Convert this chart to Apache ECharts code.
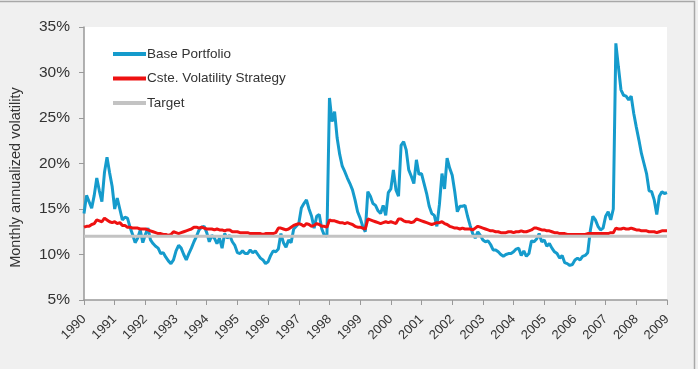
<!DOCTYPE html>
<html>
<head>
<meta charset="utf-8">
<script src="https://cdn.jsdelivr.net/npm/echarts@6/dist/echarts.min.js"></script>
<style>
    html, body { margin: 0; padding: 0; background: #f0f0f0; }
    #chart { width: 698px; height: 369px; }
</style>
</head>
<body>
<div id="chart"></div>
<script>
// years shown on the axis (monthly data, Jan 1990 - Jan 2009)
var years = [1990, 1991, 1992, 1993, 1994, 1995, 1996, 1997, 1998, 1999,
             2000, 2001, 2002, 2003, 2004, 2005, 2006, 2007, 2008, 2009];

// Base Portfolio, monthly annualized vol (%)
var basePortfolio = [
    14.5, 16.5, 15.8, 15.1, 16.5, 18.4, 17.0, 15.8, 19.0, 20.7, 19.0, 17.5,   // 1990
    15.0, 16.2, 15.0, 13.8, 14.1, 14.0, 13.0, 12.2, 11.3, 11.8, 12.7, 11.3,   // 1991
    12.2, 12.9, 11.6, 11.2, 10.9, 10.7, 10.1, 10.2, 9.7, 9.3, 9.0, 9.4,       // 1992
    10.4, 11.0, 10.7, 10.0, 9.4, 10.1, 10.7, 11.4, 12.0, 12.7, 13.0, 13.1,    // 1993
    12.4, 11.4, 12.1, 11.8, 11.2, 11.8, 10.7, 12.3, 11.8, 12.1, 11.4, 11.0,   // 1994
    10.2, 10.1, 10.4, 10.1, 10.1, 10.5, 10.2, 10.4, 10.0, 9.6, 9.4, 9.0,      // 1995
    9.2, 9.9, 10.4, 10.3, 10.6, 12.3, 11.3, 10.8, 11.6, 11.3, 12.8, 13.1,     // 1996
    13.4, 15.1, 15.6, 16.0, 15.0, 14.2, 12.9, 14.2, 14.4, 12.8, 12.1, 12.0,   // 1997
    27.2, 24.6, 25.7, 22.8, 21.0, 19.7, 19.1, 18.4, 17.8, 17.1, 16.0, 14.7,   // 1998
    14.0, 13.1, 12.5, 16.9, 16.4, 15.6, 15.4, 14.8, 14.5, 15.4, 14.3, 16.8,   // 1999
    17.2, 19.3, 17.1, 16.4, 22.0, 22.4, 21.5, 19.3, 18.6, 17.8, 20.4, 18.8,   // 2000
    18.9, 17.8, 16.7, 15.3, 14.5, 14.3, 13.1, 15.5, 18.9, 17.2, 20.6, 19.5,   // 2001
    18.7, 16.9, 14.7, 15.3, 15.3, 15.4, 14.2, 13.2, 12.3, 11.8, 12.5, 12.1,   // 2002
    11.6, 11.4, 11.5, 11.1, 10.5, 10.5, 10.3, 10.0, 9.8, 10.0, 10.1, 10.1,    // 2003
    10.3, 10.6, 10.7, 9.9, 10.4, 9.8, 10.1, 11.5, 11.4, 11.7, 12.3, 11.4,     // 2004
    11.6, 10.9, 11.2, 10.7, 10.3, 10.1, 9.6, 9.9, 9.1, 9.0, 8.8, 8.9,         // 2005
    9.4, 9.6, 9.4, 9.8, 9.9, 10.2, 12.6, 14.2, 13.8, 13.1, 12.7, 12.9,        // 2006
    14.2, 14.7, 13.8, 15.0, 33.2, 30.6, 28.1, 27.5, 27.4, 27.0, 27.4, 25.5,   // 2007
    24.0, 22.6, 21.1, 20.0, 18.9, 17.0, 16.9, 16.0, 14.4, 16.4, 16.9, 16.7,   // 2008
    16.8                                                                       // 2009
];

// Cste. Volatility Strategy (%)
var csteVolStrategy = [
    13.0, 13.1, 13.1, 13.3, 13.4, 13.8, 13.7, 13.6, 14.0, 13.8, 13.6, 13.5,   // 1990
    13.6, 13.4, 13.5, 13.2, 13.2, 13.0, 13.0, 12.9, 12.9, 12.9, 12.8, 12.8,   // 1991
    12.8, 12.7, 12.6, 12.5, 12.4, 12.3, 12.3, 12.2, 12.2, 12.1, 12.2, 12.5,   // 1992
    12.4, 12.3, 12.4, 12.5, 12.6, 12.7, 12.8, 13.0, 13.0, 12.9, 13.0, 12.9,   // 1993
    12.8, 12.8, 12.8, 12.7, 12.8, 12.7, 12.7, 12.6, 12.7, 12.7, 12.5, 12.5,   // 1994
    12.5, 12.4, 12.4, 12.4, 12.4, 12.3, 12.3, 12.3, 12.3, 12.3, 12.2, 12.3,   // 1995
    12.3, 12.3, 12.3, 12.4, 12.9, 12.9, 12.8, 12.7, 12.8, 13.0, 13.2, 13.3,   // 1996
    13.4, 13.3, 13.1, 13.4, 13.3, 13.1, 13.2, 13.4, 13.3, 13.1, 13.1, 13.0,   // 1997
    13.8, 13.7, 13.7, 13.6, 13.5, 13.5, 13.4, 13.5, 13.4, 13.3, 13.1, 13.0,   // 1998
    13.0, 12.9, 12.8, 13.9, 13.8, 13.7, 13.6, 13.5, 13.4, 13.5, 13.6, 13.5,   // 1999
    13.6, 13.5, 13.4, 13.9, 13.9, 13.7, 13.6, 13.6, 13.5, 13.6, 13.9, 13.8,   // 2000
    13.7, 13.6, 13.5, 13.4, 13.3, 13.4, 13.5, 13.5, 13.6, 13.4, 13.3, 13.1,   // 2001
    13.0, 12.9, 12.9, 12.8, 12.9, 12.8, 12.8, 12.8, 12.7, 12.9, 13.1, 13.0,   // 2002
    12.9, 12.8, 12.7, 12.6, 12.6, 12.5, 12.5, 12.4, 12.4, 12.4, 12.5, 12.5,   // 2003
    12.4, 12.5, 12.5, 12.6, 12.5, 12.5, 12.6, 12.7, 12.9, 12.9, 12.8, 12.7,   // 2004
    12.7, 12.6, 12.6, 12.5, 12.4, 12.4, 12.3, 12.3, 12.3, 12.2, 12.2, 12.2,   // 2005
    12.2, 12.2, 12.2, 12.2, 12.2, 12.3, 12.3, 12.3, 12.3, 12.3, 12.3, 12.3,   // 2006
    12.3, 12.3, 12.4, 12.4, 12.9, 12.8, 12.8, 12.9, 12.8, 12.8, 12.9, 12.8,   // 2007
    12.7, 12.7, 12.6, 12.6, 12.6, 12.5, 12.5, 12.5, 12.4, 12.5, 12.6, 12.6,   // 2008
    12.6                                                                       // 2009
];

var targetLevel = 12;

// y axis: 5% .. 35% step 5
var yMin = 5, yMax = 35, yStep = 5;

// month categories built from the years list
var months = [];
for (var y = 0; y < years.length; y++) {
    for (var m = 1; m <= 12; m++) {
        if (months.length < basePortfolio.length) {
            months.push(years[y] + '-' + (m < 10 ? '0' + m : m));
        }
    }
}
var target = months.map(function () { return targetLevel; });

function everyYear(idx) {
    return idx % 12 === 0;
}

var font = 'Liberation Sans, Arial, sans-serif';
var chart = echarts.init(document.getElementById('chart'));

var option = {
    animation: false,
    backgroundColor: '#f0f0f0',
    textStyle: { fontFamily: font },
    graphic: [{
        type: 'rect',
        shape: { x: -5, y: 1.5, width: 699.5, height: 380 },
        style: { fill: 'none', stroke: '#a8a8a8', lineWidth: 1.5 },
        silent: true
    }],
    grid: {
        left: 83,
        right: 31,
        top: 27,
        bottom: 69,
        show: true,
        backgroundColor: '#ffffff',
        borderWidth: 0
    },
    legend: {
        orient: 'vertical',
        left: 108,
        top: 42,
        itemWidth: 33,
        itemHeight: 4,
        itemGap: 10.5,
        textStyle: { fontSize: 13.5, color: '#333', fontFamily: font, padding: [0, 0, 0, -4] },
        data: [
            { name: 'Base Portfolio', icon: 'rect' },
            { name: 'Cste. Volatility Strategy', icon: 'rect' },
            { name: 'Target', icon: 'rect' }
        ]
    },
    xAxis: {
        type: 'category',
        boundaryGap: false,
        data: months,
        axisLine: { lineStyle: { color: '#999', width: 1.5 } },
        axisTick: { interval: everyYear, length: 5, lineStyle: { color: '#999' } },
        axisLabel: {
            interval: everyYear,
            rotate: 45,
            margin: 17,
            fontSize: 13,
            color: '#333',
            formatter: function (v) { return v.slice(0, 4); }
        },
        splitLine: { show: false }
    },
    yAxis: {
        type: 'value',
        min: yMin,
        max: yMax,
        interval: yStep,
        name: 'Monthly annualized volatility',
        nameLocation: 'middle',
        nameGap: 61,
        nameTextStyle: { fontSize: 14.5, color: '#333', fontFamily: font, padding: [0, 28, 0, 0] },
        axisLine: { show: true, lineStyle: { color: '#999', width: 1.5 } },
        axisTick: { show: true, length: 5, lineStyle: { color: '#999' } },
        axisLabel: { fontSize: 15.5, color: '#333', margin: 14, formatter: '{value}%' },
        splitLine: { show: false }
    },
    series: [{
        name: 'Base Portfolio',
        type: 'line',
        data: basePortfolio,
        symbol: 'none',
        color: '#159bcc',
        lineStyle: { width: 3, color: '#159bcc' }
    }, {
        name: 'Cste. Volatility Strategy',
        type: 'line',
        data: csteVolStrategy,
        symbol: 'none',
        color: '#ee1111',
        lineStyle: { width: 3, color: '#ee1111' }
    }, {
        name: 'Target',
        type: 'line',
        data: target,
        symbol: 'none',
        color: '#c3c3c3',
        lineStyle: { width: 3, color: '#c3c3c3' }
    }]
};
chart.setOption(option);
</script>
</body>
</html>
